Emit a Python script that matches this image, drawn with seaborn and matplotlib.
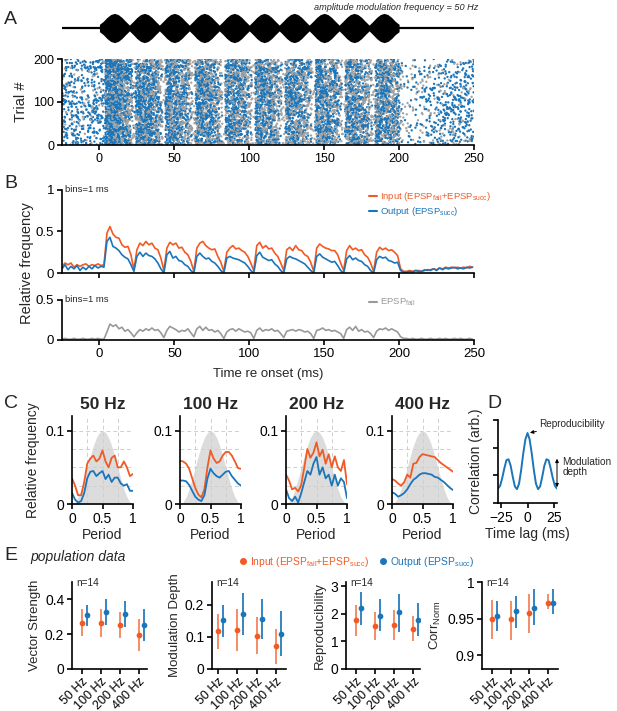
import numpy as np
import pandas as pd
import matplotlib
matplotlib.use("Agg")
import matplotlib.pyplot as plt
from matplotlib.lines import Line2D
from matplotlib.ticker import FuncFormatter
import seaborn as sns

ORANGE = "#f15a24"
ORANGE_BAR = "#f58c66"
BLUE = "#1b75b9"
BLUE_BAR = "#3585c2"
GREY = "#999999"
HUMP = "#dcdcdc"

# ---------------- data ----------------
N_TRIALS = 200
BIN_MS = 2

# stimulus envelope (panel A), 2.5 ms steps from onset to offset
ENV_T = np.arange(0, 200.1, 2.5)
ENVELOPE = [0.25, 0.45, 0.72, 0.92, 1.0, 0.92, 0.72, 0.45,
            0.2, 0.45, 0.72, 0.92, 1.0, 0.92, 0.72, 0.45,
            0.2, 0.45, 0.72, 0.92, 1.0, 0.92, 0.72, 0.45,
            0.2, 0.45, 0.72, 0.92, 1.0, 0.92, 0.72, 0.45,
            0.2, 0.45, 0.72, 0.92, 1.0, 0.92, 0.72, 0.45,
            0.2, 0.45, 0.72, 0.92, 1.0, 0.92, 0.72, 0.45,
            0.2, 0.45, 0.72, 0.92, 1.0, 0.92, 0.72, 0.45,
            0.2, 0.45, 0.72, 0.92, 1.0, 0.92, 0.72, 0.45,
            0.2, 0.45, 0.72, 0.92, 1.0, 0.92, 0.72, 0.45,
            0.2, 0.45, 0.72, 0.92, 1.0, 0.92, 0.72, 0.45,
            0.25]

# PSTH bin centres (ms re onset)
PSTH_T = np.arange(-25, 250, BIN_MS)

INPUT_PSTH = [
    0.08, 0.12, 0.10, 0.12, 0.07, 0.10, 0.08, 0.10, 0.11, 0.08, 0.10, 0.09, 0.11, 0.09, 0.10,
    0.48, 0.56, 0.47, 0.43, 0.42, 0.34, 0.31, 0.32, 0.22, 0.04,
    0.28, 0.36, 0.33, 0.38, 0.34, 0.36, 0.30, 0.28, 0.18, 0.03,
    0.30, 0.37, 0.34, 0.36, 0.30, 0.31, 0.25, 0.22, 0.14, 0.02,
    0.30, 0.36, 0.38, 0.33, 0.30, 0.28, 0.29, 0.20, 0.13, 0.02,
    0.25, 0.30, 0.33, 0.29, 0.30, 0.27, 0.25, 0.20, 0.12, 0.03,
    0.33, 0.37, 0.30, 0.33, 0.29, 0.30, 0.24, 0.20, 0.12, 0.03,
    0.28, 0.31, 0.27, 0.33, 0.28, 0.27, 0.22, 0.20, 0.13, 0.02,
    0.30, 0.35, 0.32, 0.30, 0.29, 0.27, 0.27, 0.22, 0.12, 0.03,
    0.27, 0.33, 0.28, 0.30, 0.27, 0.28, 0.22, 0.19, 0.12, 0.02,
    0.25, 0.31, 0.28, 0.30, 0.27, 0.28, 0.25, 0.21, 0.05, 0.02,
    0.02, 0.03, 0.02, 0.03, 0.03, 0.02, 0.04, 0.03, 0.04, 0.05, 0.04, 0.06,
    0.05, 0.07, 0.06, 0.07, 0.06, 0.07, 0.06, 0.07, 0.06, 0.08, 0.07]

OUTPUT_PSTH = [
    0.05, 0.10, 0.04, 0.08, 0.05, 0.09, 0.03, 0.07, 0.04, 0.08, 0.05, 0.09, 0.06, 0.08, 0.07,
    0.38, 0.43, 0.32, 0.30, 0.27, 0.22, 0.19, 0.17, 0.10, 0.02,
    0.20, 0.25, 0.20, 0.24, 0.21, 0.20, 0.17, 0.12, 0.05, 0.00,
    0.22, 0.26, 0.18, 0.20, 0.15, 0.14, 0.10, 0.08, 0.03, 0.00,
    0.20, 0.24, 0.20, 0.17, 0.18, 0.14, 0.12, 0.08, 0.03, 0.00,
    0.18, 0.20, 0.18, 0.17, 0.16, 0.14, 0.12, 0.08, 0.03, 0.00,
    0.21, 0.25, 0.19, 0.17, 0.15, 0.16, 0.11, 0.08, 0.03, 0.00,
    0.17, 0.20, 0.18, 0.17, 0.15, 0.13, 0.11, 0.07, 0.03, 0.00,
    0.20, 0.23, 0.19, 0.17, 0.15, 0.13, 0.14, 0.09, 0.03, 0.00,
    0.17, 0.21, 0.16, 0.18, 0.15, 0.14, 0.10, 0.08, 0.03, 0.00,
    0.16, 0.20, 0.18, 0.19, 0.15, 0.14, 0.12, 0.13, 0.03, 0.01,
    0.01, 0.02, 0.01, 0.03, 0.02, 0.02, 0.03, 0.04, 0.03, 0.05, 0.03, 0.06,
    0.04, 0.06, 0.05, 0.06, 0.07, 0.05, 0.06, 0.05, 0.07, 0.06, 0.07]

FAIL_PSTH = [
    0.01, 0.02, 0.01, 0.01, 0.02, 0.01, 0.01, 0.02, 0.01, 0.01, 0.02, 0.01, 0.02, 0.01, 0.01,
    0.10, 0.20, 0.17, 0.19, 0.14, 0.16, 0.11, 0.13, 0.09, 0.04,
    0.09, 0.13, 0.11, 0.14, 0.12, 0.15, 0.12, 0.13, 0.09, 0.03,
    0.12, 0.17, 0.15, 0.13, 0.10, 0.12, 0.11, 0.14, 0.09, 0.04,
    0.14, 0.17, 0.12, 0.16, 0.12, 0.13, 0.10, 0.12, 0.08, 0.02,
    0.10, 0.13, 0.14, 0.11, 0.14, 0.12, 0.10, 0.11, 0.09, 0.02,
    0.12, 0.15, 0.11, 0.13, 0.12, 0.14, 0.11, 0.12, 0.08, 0.03,
    0.11, 0.12, 0.13, 0.11, 0.13, 0.12, 0.10, 0.11, 0.08, 0.02,
    0.12, 0.13, 0.15, 0.12, 0.13, 0.11, 0.12, 0.10, 0.08, 0.02,
    0.13, 0.16, 0.12, 0.17, 0.11, 0.13, 0.10, 0.11, 0.08, 0.03,
    0.11, 0.14, 0.13, 0.15, 0.12, 0.14, 0.12, 0.10, 0.04, 0.02,
    0.02, 0.01, 0.02, 0.01, 0.01, 0.02, 0.01, 0.01, 0.02, 0.01, 0.01, 0.02,
    0.01, 0.02, 0.01, 0.01, 0.02, 0.01, 0.02, 0.01, 0.01, 0.02, 0.01]

# period histograms (panel C)
PHASE = np.round(np.arange(0, 1.001, 0.05), 2)
STIM_HUMP = [0, 0.0025, 0.0095, 0.0206, 0.0345, 0.05, 0.0655, 0.0794, 0.0905, 0.0976, 0.1,
             0.0976, 0.0905, 0.0794, 0.0655, 0.05, 0.0345, 0.0206, 0.0095, 0.0025, 0]
C_FREQS = ["50 Hz", "100 Hz", "200 Hz", "400 Hz"]
C_INPUT = [
    [0.035, 0.025, 0.012, 0.012, 0.03, 0.055, 0.062, 0.066, 0.058, 0.062, 0.073,
     0.058, 0.05, 0.063, 0.066, 0.05, 0.05, 0.058, 0.05, 0.038, 0.041],
    [0.059, 0.058, 0.055, 0.048, 0.035, 0.022, 0.013, 0.009, 0.02, 0.05, 0.073,
     0.062, 0.056, 0.058, 0.066, 0.071, 0.071, 0.066, 0.058, 0.049, 0.048],
    [0.04, 0.032, 0.02, 0.022, 0.017, 0.026, 0.05, 0.075, 0.063, 0.07, 0.084,
     0.065, 0.074, 0.055, 0.068, 0.05, 0.065, 0.05, 0.045, 0.06, 0.027],
    [0.034, 0.032, 0.028, 0.025, 0.03, 0.04, 0.036, 0.055, 0.056, 0.064, 0.068,
     0.067, 0.066, 0.065, 0.064, 0.06, 0.056, 0.053, 0.05, 0.047, 0.044]]
C_OUTPUT = [
    [0.015, 0.006, 0.002, 0.004, 0.015, 0.035, 0.044, 0.045, 0.038, 0.042, 0.045,
     0.034, 0.04, 0.03, 0.036, 0.036, 0.028, 0.025, 0.027, 0.018, 0.018],
    [0.032, 0.032, 0.031, 0.026, 0.018, 0.01, 0.006, 0.004, 0.012, 0.035, 0.048,
     0.042, 0.038, 0.036, 0.04, 0.044, 0.045, 0.038, 0.033, 0.028, 0.025],
    [0.02, 0.008, 0.004, 0.01, 0.002, 0.015, 0.03, 0.045, 0.04, 0.055, 0.064,
     0.04, 0.05, 0.035, 0.04, 0.025, 0.04, 0.025, 0.035, 0.03, 0.008],
    [0.016, 0.014, 0.01, 0.012, 0.015, 0.02, 0.027, 0.033, 0.036, 0.04, 0.042,
     0.042, 0.041, 0.04, 0.037, 0.036, 0.033, 0.03, 0.026, 0.022, 0.019]]

# autocorrelation sketch (panel D)
LAG = np.arange(-28, 29, 2)
CORR = [0.52, 0.62, 0.9, 1.25, 1.55, 1.58, 1.35, 0.95, 0.6, 0.5, 0.7, 1.2, 1.8, 2.3,
        2.53,
        2.3, 1.8, 1.2, 0.7, 0.5, 0.6, 0.95, 1.35, 1.58, 1.55, 1.25, 0.9, 0.62, 0.52]

# population data (panel E): mean and (low, high) of error bar
E_CATS = ["50 Hz", "100 Hz", "200 Hz", "400 Hz"]
VS_IN = [0.263, 0.263, 0.254, 0.197]
VS_IN_ERR = [(0.188, 0.342), (0.184, 0.344), (0.179, 0.329), (0.103, 0.29)]
VS_OUT = [0.31, 0.329, 0.316, 0.254]
VS_OUT_ERR = [(0.248, 0.37), (0.254, 0.404), (0.244, 0.389), (0.16, 0.344)]
MD_IN = [0.117, 0.121, 0.103, 0.071]
MD_IN_ERR = [(0.062, 0.172), (0.055, 0.187), (0.046, 0.16), (0.016, 0.125)]
MD_OUT = [0.151, 0.171, 0.155, 0.11]
MD_OUT_ERR = [(0.1, 0.2), (0.104, 0.236), (0.092, 0.216), (0.04, 0.181)]
REP_IN = [1.77, 1.55, 1.61, 1.46]
REP_IN_ERR = [(1.21, 2.3), (1.06, 2.05), (1.04, 2.15), (1.0, 1.93)]
REP_OUT = [2.21, 1.93, 2.06, 1.79]
REP_OUT_ERR = [(1.61, 2.78), (1.37, 2.52), (1.33, 2.73), (1.21, 2.39)]
CORR_IN = [0.9495, 0.949, 0.958, 0.971]
CORR_IN_ERR = [(0.922, 0.975), (0.921, 0.974), (0.93, 0.984), (0.963, 0.984)]
CORR_OUT = [0.954, 0.96, 0.965, 0.972]
CORR_OUT_ERR = [(0.933, 0.974), (0.938, 0.981), (0.941, 0.99), (0.957, 0.99)]

# ---------------- figure ----------------
sns.set_theme(style="ticks")
plt.rcParams["font.family"] = ["Liberation Sans", "DejaVu Sans"]
plt.rcParams["mathtext.default"] = "regular"

W, H = 617, 711
fig = plt.figure(figsize=(W / 100, H / 100), dpi=100)


def box(left, top, width, height):
    return [left / W, 1 - (top + height) / H, width / W, height / H]


def style(ax, size=9):
    sns.despine(ax=ax)
    for s in ("left", "bottom"):
        ax.spines[s].set_linewidth(1.2)
        ax.spines[s].set_color("black")
    ax.tick_params(direction="out", length=3.5, width=1.2, labelsize=size,
                   pad=2, colors="black")


def letter(x, y, s):
    fig.text(x / W, 1 - y / H, s, fontsize=14, va="center", ha="left")


def spread(idx, salt):
    # integer hash -> [0, 1): fixed, repeatable placement of counted events
    x = (np.asarray(idx, dtype=np.uint64) * np.uint64(2654435761) + np.uint64(salt)) & np.uint64(0xFFFFFFFF)
    x ^= x >> np.uint64(16)
    x = (x * np.uint64(0x7FEB352D)) & np.uint64(0xFFFFFFFF)
    x ^= x >> np.uint64(15)
    x = (x * np.uint64(0x846CA68B)) & np.uint64(0xFFFFFFFF)
    x ^= x >> np.uint64(16)
    return x.astype(float) / 2 ** 32


fmt = FuncFormatter(lambda v, p: "{:g}".format(round(v, 3)))

# ---- A: stimulus ----
ax = fig.add_axes(box(62, 9, 412, 38))
ax.axhline(0, color="black", lw=1.6)
ax.fill_between(ENV_T, -np.array(ENVELOPE), ENVELOPE, color="black", lw=0)
ax.set_xlim(-25, 250)
ax.set_ylim(-1.3, 1.3)
ax.axis("off")
fig.text(478 / W, 1 - 8 / H, "amplitude modulation frequency = 50 Hz",
         ha="right", va="center", fontsize=6.6, style="italic")
letter(4, 19, "A")

# ---- A: raster built from the PSTH counts ----
bin_t, kinds = [], []
for t, p_succ, p_fail in zip(PSTH_T, OUTPUT_PSTH, FAIL_PSTH):
    n_succ = int(round(p_succ * N_TRIALS * BIN_MS))
    n_fail = int(round(p_fail * N_TRIALS * BIN_MS))
    bin_t += [t] * (n_succ + n_fail)
    kinds += ["succ"] * n_succ + ["fail"] * n_fail
ev = np.arange(len(kinds))
raster = pd.DataFrame({
    "time": np.array(bin_t) - BIN_MS / 2 + BIN_MS * spread(ev, 17),
    "trial": N_TRIALS * spread(ev, 911),
    "kind": kinds,
    "order": spread(ev, 4242),
}).sort_values("order")

ax = fig.add_axes(box(62, 59, 412, 86))
sns.scatterplot(data=raster, x="time", y="trial", hue="kind",
                palette={"succ": BLUE, "fail": "#a3a3a3"}, s=2.8, linewidth=0,
                legend=False, ax=ax)
ax.set_xlim(-25, 250)
ax.set_ylim(0, N_TRIALS)
ax.set_xticks(range(0, 251, 50))
ax.set_yticks([0, 100, 200])
ax.set_xlabel("")
ax.set_ylabel("Trial #", fontsize=10.5)
style(ax)

# ---- B ----
letter(4, 184, "B")
ax = fig.add_axes(box(62, 190, 412, 83))
sns.lineplot(x=PSTH_T, y=INPUT_PSTH, color=ORANGE, lw=1.2, ax=ax)
sns.lineplot(x=PSTH_T, y=OUTPUT_PSTH, color=BLUE, lw=1.2, ax=ax)
ax.set_xlim(-25, 250)
ax.set_ylim(0, 1)
ax.set_xticks(range(0, 251, 50))
ax.set_xticklabels([])
ax.set_yticks([0, 0.5, 1])
ax.yaxis.set_major_formatter(fmt)
style(ax, 9.5)
ax.text(0.008, 1.0, "bins=1 ms", transform=ax.transAxes, fontsize=6.8, va="center")
handles = [Line2D([], [], color=ORANGE, lw=1.5), Line2D([], [], color=BLUE, lw=1.5)]
ax.legend(handles, ["Input (EPSP$_{fail}$+EPSP$_{succ}$)", "Output (EPSP$_{succ}$)"],
          loc="upper left", bbox_to_anchor=(369 / W, 1 - 190 / H),
          bbox_transform=fig.transFigure, frameon=False, fontsize=6.8,
          handlelength=0.8, handletextpad=0.4, labelspacing=0.25,
          borderpad=0, borderaxespad=0, labelcolor=[ORANGE, BLUE])

ax = fig.add_axes(box(62, 300, 412, 40))
sns.lineplot(x=PSTH_T, y=FAIL_PSTH, color=GREY, lw=1.2, ax=ax)
ax.set_xlim(-25, 250)
ax.set_ylim(0, 0.5)
ax.set_xticks(range(0, 251, 50))
ax.set_yticks([0, 0.5])
ax.yaxis.set_major_formatter(fmt)
ax.set_xlabel("Time re onset (ms)", fontsize=9.5, labelpad=6)
style(ax, 9.5)
ax.text(0.008, 1.0, "bins=1 ms", transform=ax.transAxes, fontsize=6.8, va="center")
ax.legend([Line2D([], [], color=GREY, lw=1.5)], ["EPSP$_{fail}$"],
          loc="upper left", bbox_to_anchor=(369 / W, 1 - 297 / H),
          bbox_transform=fig.transFigure, frameon=False, fontsize=6.8,
          handlelength=0.8, handletextpad=0.4, borderpad=0, borderaxespad=0,
          labelcolor=[GREY])
fig.text(27 / W, 1 - 263 / H, "Relative frequency", rotation=90,
         ha="center", va="center", fontsize=10.5)

# ---- C ----
letter(4, 403, "C")
for i, left in enumerate([72, 180, 286, 392]):
    ax = fig.add_axes(box(left, 416, 61, 88))
    ax.fill_between(PHASE, STIM_HUMP, color=HUMP, lw=0, zorder=0)
    for gx in (0.25, 0.5, 0.75):
        ax.axvline(gx, color="#cfcfcf", lw=0.7, ls=(0, (4, 3)), zorder=0.5)
    for gy in (0.025, 0.05, 0.075, 0.1):
        ax.axhline(gy, color="#cfcfcf", lw=0.7, ls=(0, (4, 3)), zorder=0.5)
    sns.lineplot(x=PHASE, y=C_INPUT[i], color=ORANGE, lw=1.3, ax=ax)
    sns.lineplot(x=PHASE, y=C_OUTPUT[i], color=BLUE, lw=1.3, ax=ax)
    ax.set_xlim(0, 1)
    ax.set_ylim(0, 0.12)
    ax.set_xticks([0, 0.5, 1])
    ax.set_yticks([0, 0.1])
    ax.xaxis.set_major_formatter(fmt)
    ax.yaxis.set_major_formatter(fmt)
    ax.set_title(C_FREQS[i], fontsize=12.5, fontweight="bold", pad=5)
    ax.set_xlabel("Period", fontsize=10, labelpad=2)
    ax.set_ylabel("Relative frequency" if i == 0 else "", fontsize=10, labelpad=4)
    style(ax, 10)

# ---- D ----
letter(487, 403, "D")
ax = fig.add_axes(box(498, 420, 59, 83))
sns.lineplot(x=LAG, y=CORR, color=BLUE, lw=1.4, ax=ax)
ax.set_xlim(-28, 28)
ax.set_ylim(0, 3)
ax.set_xticks([-25, 0, 25])
ax.set_yticks([0, 1, 2, 3])
ax.set_yticklabels([])
ax.set_xlabel("Time lag (ms)", fontsize=10, labelpad=2)
ax.set_ylabel("Correlation (arb.)", fontsize=10, labelpad=5)
style(ax, 10)
peak = max(CORR)
side = np.array(CORR)[LAG >= 16]
ax.annotate("Reproducibility", xy=(1.0, peak), xytext=(11.5, 2.85),
            fontsize=7.2, va="center", ha="left", annotation_clip=False,
            arrowprops=dict(arrowstyle="-|>", color="black", lw=0.7,
                            mutation_scale=5, shrinkA=0, shrinkB=1))
ax.annotate("", xy=(28, min(side) + 0.05), xytext=(28, max(side) + 0.02),
            annotation_clip=False,
            arrowprops=dict(arrowstyle="<|-|>", color="black", lw=0.7,
                            mutation_scale=5, shrinkA=0, shrinkB=0))
ax.text(33, 1.3, "Modulation\ndepth", fontsize=7.2, va="center", ha="left",
        linespacing=1.0, clip_on=False)

# ---- E ----
letter(4, 556, "E")
fig.text(30 / W, 1 - 557 / H, "population data", fontsize=10, style="italic",
         va="center")
for color, text, xpos in ((ORANGE, "Input (EPSP$_{fail}$+EPSP$_{succ}$)", 238),
                          (BLUE, "Output (EPSP$_{succ}$)", 378)):
    fig.legend([Line2D([], [], marker="o", ls="", color=color, ms=4)], [text],
               loc="center left", bbox_to_anchor=(xpos / W, 1 - 562 / H),
               frameon=False, fontsize=7.4, handlelength=1.0, handletextpad=0.15,
               borderpad=0, borderaxespad=0, labelcolor=[color])

panels = [
    (72, 75, (-0.5, 3.42), (0, 0.5), [0, 0.2, 0.4], "Vector Strength",
     VS_IN, VS_IN_ERR, VS_OUT, VS_OUT_ERR),
    (212, 74, (-0.31, 3.52), (0, 0.27), [0, 0.1, 0.2], "Modulation Depth",
     MD_IN, MD_IN_ERR, MD_OUT, MD_OUT_ERR),
    (346, 74, (-0.52, 3.35), (0, 3.15), [0, 1, 2, 3], "Reproducibility",
     REP_IN, REP_IN_ERR, REP_OUT, REP_OUT_ERR),
    (482, 76, (-0.56, 3.54), (0.8815, 1.0), [0.9, 0.95, 1], "Corr$_{Norm}$",
     CORR_IN, CORR_IN_ERR, CORR_OUT, CORR_OUT_ERR),
]
x_in = np.arange(len(E_CATS))
x_out = x_in + 0.27
for left, width, xl, yl, yt, label, m_in, e_in, m_out, e_out in panels:
    ax = fig.add_axes(box(left, 582, width, 87))
    ax.vlines(x_in, [e[0] for e in e_in], [e[1] for e in e_in],
              color=ORANGE_BAR, lw=1.4)
    ax.vlines(x_out, [e[0] for e in e_out], [e[1] for e in e_out],
              color=BLUE_BAR, lw=1.4)
    sns.scatterplot(x=x_in, y=m_in, color=ORANGE, s=17, linewidth=0, ax=ax, zorder=3)
    sns.scatterplot(x=x_out, y=m_out, color=BLUE, s=17, linewidth=0, ax=ax, zorder=3)
    ax.set_xlim(*xl)
    ax.set_ylim(*yl)
    ax.set_yticks(yt)
    ax.yaxis.set_major_formatter(fmt)
    ax.set_xticks(x_in)
    ax.set_xticklabels(E_CATS, rotation=45, ha="right", rotation_mode="anchor")
    ax.set_ylabel(label, fontsize=9.5, labelpad=3)
    style(ax, 10)
    ax.tick_params(axis="x", labelsize=9, pad=1)
    ax.text(0.06, 0.985, "n=14", transform=ax.transAxes, fontsize=7.2, va="center")

fig.savefig("out.png", dpi=100)
